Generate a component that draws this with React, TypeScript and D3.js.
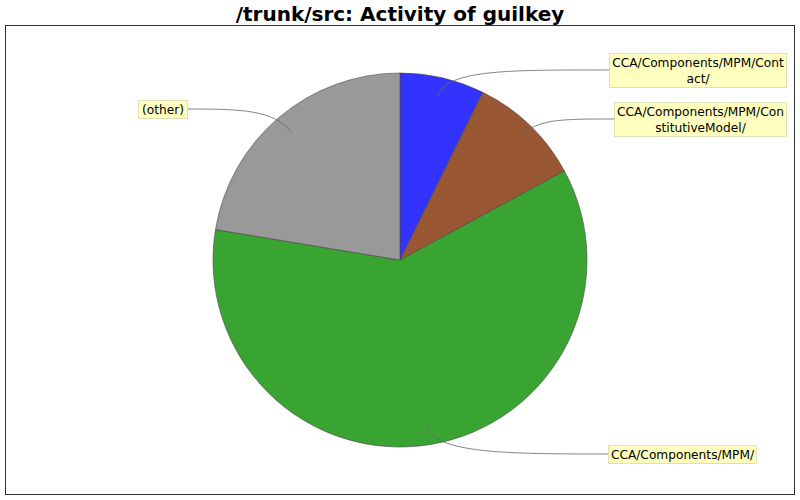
import React from "react";
import * as d3 from "d3";

// slice data (percent of activity), clockwise from 12 o'clock
const categories = [
  "CCA/Components/MPM/Contact/",
  "CCA/Components/MPM/ConstitutiveModel/",
  "CCA/Components/MPM/",
  "(other)",
];
const shares = [7.3, 9.8, 60.5, 22.4];
const colors = ["#3333ff", "#995733", "#3aa433", "#999999"];
// label text split the way the chart wraps it
const labelLines = [
  ["CCA/Components/MPM/Cont", "act/"],
  ["CCA/Components/MPM/Con", "stitutiveModel/"],
  ["CCA/Components/MPM/"],
  ["(other)"],
];

// where the label boxes sit (left, top, width)
const boxX = [609, 614, 608, 138];
const boxY = [53, 102, 445, 100];
const boxW = [177, 172, 148, 49];

const W = 800;
const H = 500;
const cx = 400;
const cy = 260;
const R = 187;

interface Slice {
  name: string;
  value: number;
  color: string;
  lines: string[];
  bx: number;
  by: number;
  bw: number;
}

const slices: Slice[] = categories.map((name, i) => ({
  name,
  value: shares[i],
  color: colors[i],
  lines: labelLines[i],
  bx: boxX[i],
  by: boxY[i],
  bw: boxW[i],
}));

const App: React.FC = () => {
  const pie = d3.pie<Slice>().sort(null).value((d) => d.value);
  const arcs = pie(slices);
  const arc = d3.arc<d3.PieArcDatum<Slice>>().innerRadius(0).outerRadius(R);
  const lineH = 16;

  return (
    <svg width={W} height={H} style={{ position: "absolute", left: 0, top: 0 }}
      fontFamily="DejaVu Sans">
      <rect x={0} y={0} width={W} height={H} fill="#fff" />
      <text x={W / 2} y={21} textAnchor="middle" fontWeight="bold" fontSize={20}>
        /trunk/src: Activity of guilkey
      </text>
      <rect x={5.5} y={25.5} width={789} height={469} fill="#fff" stroke="#333" strokeWidth={1} />
      <g transform={`translate(${cx},${cy})`}>
        {arcs.map((a, i) => (
          <path key={i} d={arc(a) || ""} fill={a.data.color} stroke="#444" strokeWidth={0.6} />
        ))}
      </g>
      {arcs.map((a, i) => {
        const mid = (a.startAngle + a.endAngle) / 2;
        const ux = Math.sin(mid);
        const uy = -Math.cos(mid);
        const ax = cx + ux * R * 0.9;
        const ay = cy + uy * R * 0.9;
        const d = a.data;
        const bh = d.lines.length * lineH + 2;
        const right = ux > 0;
        const ex = right ? d.bx : d.bx + d.bw;
        const ey = d.by + bh / 2;
        const c1x = cx + ux * R * 1.05;
        const c1y = cy + uy * R * 1.05;
        const c2x = ax + (ex - ax) * 0.45;
        const path = `M${ax},${ay} C${c1x},${c1y} ${c2x},${ey} ${ex},${ey}`;
        return (
          <g key={"l" + i}>
            <path d={path} fill="none" stroke="#666" strokeWidth={0.8} />
            <rect x={d.bx + 0.5} y={d.by + 0.5} width={d.bw} height={bh} fill="#ffffc0" stroke="#e0e0b8" />
            {d.lines.map((t, j) => (
              <text key={j} x={d.bx + d.bw / 2 + 0.5} y={d.by + 14 + j * lineH}
                textAnchor="middle" fontSize={12.2} fill="#000">
                {t}
              </text>
            ))}
          </g>
        );
      })}
    </svg>
  );
};

export default App;
